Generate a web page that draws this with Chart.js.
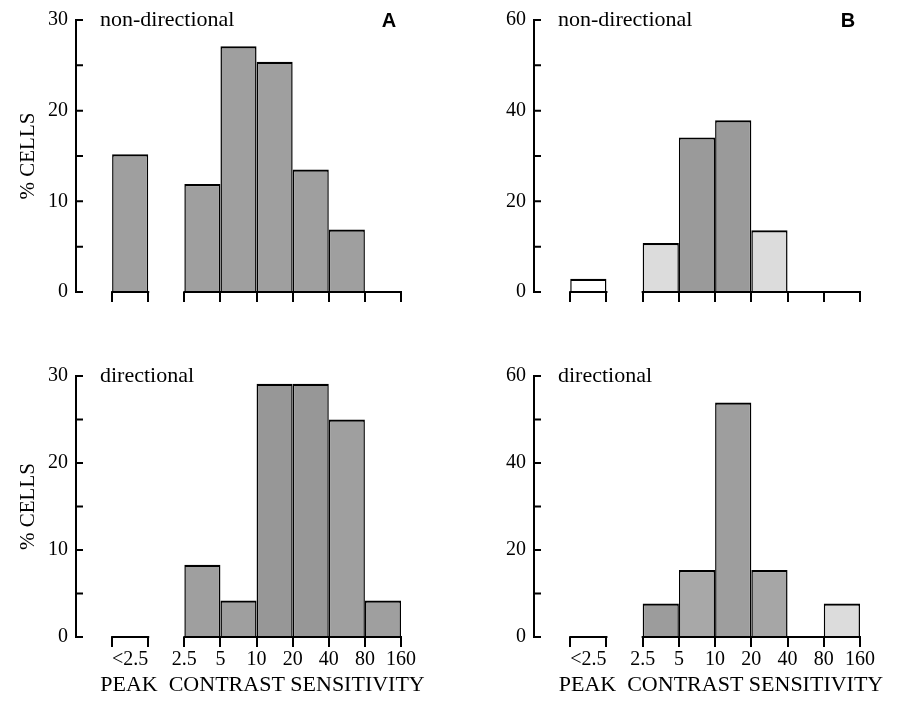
<!DOCTYPE html>
<html>
<head>
<meta charset="utf-8">
<script src="https://cdn.jsdelivr.net/npm/chart.js@4.4.1/dist/chart.umd.min.js"></script>
<style>
html, body { margin: 0; padding: 0; background: #fff; }
#wrap { position: relative; width: 898px; height: 713px; }
canvas { position: absolute; }
</style>
</head>
<body>
<div id="wrap">
  <canvas id="ndA" width="449" height="356" style="left:0;top:0"></canvas>
  <canvas id="ndB" width="449" height="356" style="left:449px;top:0"></canvas>
  <canvas id="dA" width="449" height="357" style="left:0;top:356px"></canvas>
  <canvas id="dB" width="449" height="357" style="left:449px;top:356px"></canvas>
</div>
<script>
// bins of peak contrast sensitivity; "<2.5" sits alone, slot 1 stays empty
const binNames = ['<2.5', '2.5-5', '5-10', '10-20', '20-40', '40-80', '80-160'];
const binSlots = [0, 2, 3, 4, 5, 6, 7];
const tickValues = [0, 0.5, 1, 2, 3, 4, 5, 6, 7, 8];
const tickLabels = ['', '<2.5', '', '2.5', '5', '10', '20', '40', '80', '160'];

// % cells
const nonDirA = [15.2, 11.9, 27.1, 25.4, 13.5, 6.9, 0];
const dirA    = [0, 8.3, 4.2, 29.1, 29.1, 25.0, 4.2];
const nonDirB = [2.9, 10.8, 34.1, 37.9, 13.6, 0, 0];
const dirB    = [0, 7.7, 15.4, 53.9, 15.4, 0, 7.7];

// shading of each bar
const DARK = '#9f9f9f', LIGHT = '#dcdcdc';
const shadeNonDirA = [DARK, DARK, DARK, DARK, DARK, DARK, DARK];
const shadeDirA    = [DARK, DARK, DARK, '#979797', '#979797', DARK, DARK];
const shadeNonDirB = ['#ffffff', LIGHT, '#9a9a9a', '#9a9a9a', LIGHT, DARK, DARK];
const shadeDirB    = [DARK, '#9c9c9c', '#a8a8a8', '#9e9e9e', '#a6a6a6', DARK, LIGHT];

const SERIF = 'Liberation Serif';

// runs of neighbouring slots, for the base line under the bars
const runs = [];
binSlots.forEach(s => {
  const last = runs[runs.length - 1];
  if (last && last[1] === s) last[1] = s + 1; else runs.push([s, s + 1]);
});

const decor = {
  id: 'decor',
  afterDraw(chart, args, o) {
    const { ctx, chartArea: a, scales: { x, y } } = chart;
    ctx.save();
    ctx.strokeStyle = '#000';
    ctx.lineWidth = 2;
    ctx.beginPath();
    const y0 = y.getPixelForValue(0);
    runs.forEach(([lo, hi]) => {
      ctx.moveTo(x.getPixelForValue(lo) - 1, y0);
      ctx.lineTo(x.getPixelForValue(hi) + 1, y0);
    });
    // y ticks point inwards
    y.ticks.forEach(t => {
      const p = y.getPixelForValue(t.value);
      ctx.moveTo(a.left, p);
      ctx.lineTo(a.left + 7, p);
    });
    ctx.stroke();

    ctx.fillStyle = '#000';
    ctx.font = '22px "' + SERIF + '"';
    ctx.textAlign = 'left';
    ctx.textBaseline = 'alphabetic';
    ctx.fillText(o.group, a.left + 24, a.top + 6);

    if (o.panel) {
      ctx.font = 'bold 20px "Liberation Sans"';
      ctx.textAlign = 'center';
      ctx.textBaseline = 'middle';
      ctx.fillText(o.panel, a.right - 12, a.top + 1);
    }
    if (o.xTitle) {
      ctx.font = '22px "' + SERIF + '"';
      ctx.textAlign = 'center';
      ctx.textBaseline = 'middle';
      ctx.fillText(o.xTitle, (a.left + a.right) / 2 + 24, chart.height - 28);
    }
    ctx.restore();
  }
};

function histogram(id, values, shades, cfg) {
  return new Chart(document.getElementById(id), {
    type: 'bar',
    data: {
      labels: binNames,
      datasets: [{
        data: binSlots.map((s, i) => ({ x: s + 0.5, y: values[i] })),
        backgroundColor: shades,
        borderColor: '#000',
        borderWidth: { top: 2.2, left: 1.5, right: 1.5, bottom: 0 },
        borderSkipped: false,
        barPercentage: 1,
        // the ruler also counts the half-step "<2.5" tick, so double it back to a full bin
        categoryPercentage: 2
      }]
    },
    options: {
      responsive: false,
      animation: false,
      layout: { padding: cfg.pad },
      plugins: {
        legend: { display: false },
        tooltip: { enabled: false },
        decor: { group: cfg.group, panel: cfg.panel, xTitle: cfg.xTitle }
      },
      scales: {
        x: {
          type: 'linear',
          offset: false,
          min: -1,
          max: 8,
          afterBuildTicks: s => { s.ticks = tickValues.map(v => ({ value: v })); },
          afterFit: s => { s.height = cfg.xHeight; },
          border: { display: false },
          grid: {
            offset: false,
            drawOnChartArea: false,
            drawTicks: true,
            tickLength: 10,
            lineWidth: 2,
            color: c => (c.tick && c.tick.value === 0.5) ? 'rgba(0,0,0,0)' : '#000'
          },
          ticks: {
            display: cfg.showTicks,
            autoSkip: false,
            maxRotation: 0,
            padding: 1,
            color: '#000',
            font: { family: SERIF, size: 20 },
            callback: v => tickLabels[tickValues.indexOf(v)]
          }
        },
        y: {
          min: 0,
          max: cfg.yMax,
          afterFit: s => { s.width = cfg.yWidth; },
          border: { display: true, color: '#000', width: 2 },
          grid: { display: false, drawTicks: false },
          title: {
            display: cfg.yTitle,
            text: '% CELLS',
            color: '#000',
            font: { family: SERIF, size: 21 },
            padding: { top: 16, bottom: 0 }
          },
          ticks: {
            stepSize: cfg.yMax / 6,
            padding: 8,
            color: '#000',
            font: { family: SERIF, size: 20 },
            callback: v => (v % (cfg.yMax / 3) === 0 ? v : '')
          }
        }
      }
    },
    plugins: [decor]
  });
}

histogram('ndA', nonDirA, shadeNonDirA, {
  pad: { top: 20, right: 48, left: 0, bottom: 0 }, yWidth: 76, xHeight: 64,
  yMax: 30, yTitle: true, showTicks: false, group: 'non-directional', panel: 'A'
});
histogram('ndB', nonDirB, shadeNonDirB, {
  pad: { top: 18, right: 38, left: 0, bottom: 0 }, yWidth: 85, xHeight: 64,
  yMax: 60, yTitle: false, showTicks: false, group: 'non-directional', panel: 'B'
});
histogram('dA', dirA, shadeDirA, {
  pad: { top: 6, right: 48, left: 0, bottom: 0 }, yWidth: 76, xHeight: 76,
  yMax: 30, yTitle: true, showTicks: true, group: 'directional',
  xTitle: 'PEAK  CONTRAST SENSITIVITY'
});
histogram('dB', dirB, shadeDirB, {
  pad: { top: 8, right: 38, left: 0, bottom: 0 }, yWidth: 85, xHeight: 76,
  yMax: 60, yTitle: false, showTicks: true, group: 'directional',
  xTitle: 'PEAK  CONTRAST SENSITIVITY'
});
</script>
</body>
</html>
